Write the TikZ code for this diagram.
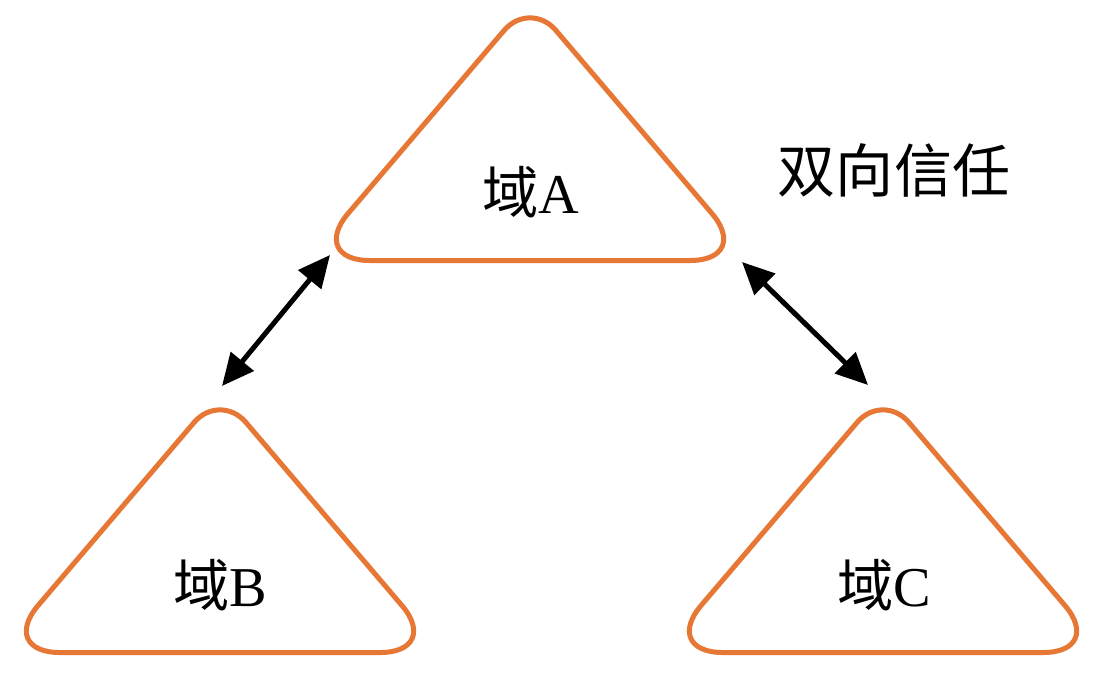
\documentclass[tikz,border=0pt]{standalone}
\usepackage{fontspec}
\setmainfont{Liberation Serif}
\newfontfamily\cjk{Noto Sans CJK SC}
\usetikzlibrary{arrows.meta}
\definecolor{domorange}{RGB}{231,119,52}

\begin{document}
\begin{tikzpicture}[x=0.01cm, y=-0.01cm,
    domtri/.style={draw=domorange, line width=0.05cm},
    trust/.style={{Triangle[length=0.32cm, width=0.29cm]}-{Triangle[length=0.32cm, width=0.29cm]}, line width=0.05cm},
    domlabel/.style={font=\fontsize{16pt}{18pt}\selectfont}]
        % Background
        \fill[white] (0,0) rectangle (1104,696);
        \useasboundingbox (0,0) rectangle (1104,696);

        % Domains
        \draw[domtri] (530,260.5) [rounded corners=0.62cm] -- (752,260.5) [rounded corners=0.4cm] -- (530,0) [rounded corners=0.62cm] -- (308,260.5) -- cycle;
        \draw[domtri] (220,652.5) [rounded corners=0.62cm] -- (442,652.5) [rounded corners=0.4cm] -- (220,392) [rounded corners=0.62cm] -- (-2,652.5) -- cycle;
        \draw[domtri] (883,652.5) [rounded corners=0.62cm] -- (1105,652.5) [rounded corners=0.4cm] -- (883,392) [rounded corners=0.62cm] -- (661,652.5) -- cycle;

        \node[domlabel] (domA) at (531,192) {{\cjk 域}A};
        \node[domlabel] (domB) at (220,585) {{\cjk 域}B};
        \node[domlabel] (domC) at (884,585) {{\cjk 域}C};
        \node[font=\fontsize{16.5pt}{19pt}\selectfont] (trustlabel) at (894,170) {\cjk 双向信任};

        % Trust links
        \coordinate (ab1) at (222,386);
        \coordinate (ab2) at (330,255);
        \coordinate (ac1) at (742,262);
        \coordinate (ac2) at (868,385);
        \draw[trust] (ab1) -- (ab2);
        \draw[trust] (ac1) -- (ac2);
    \end{tikzpicture}
\end{document}
